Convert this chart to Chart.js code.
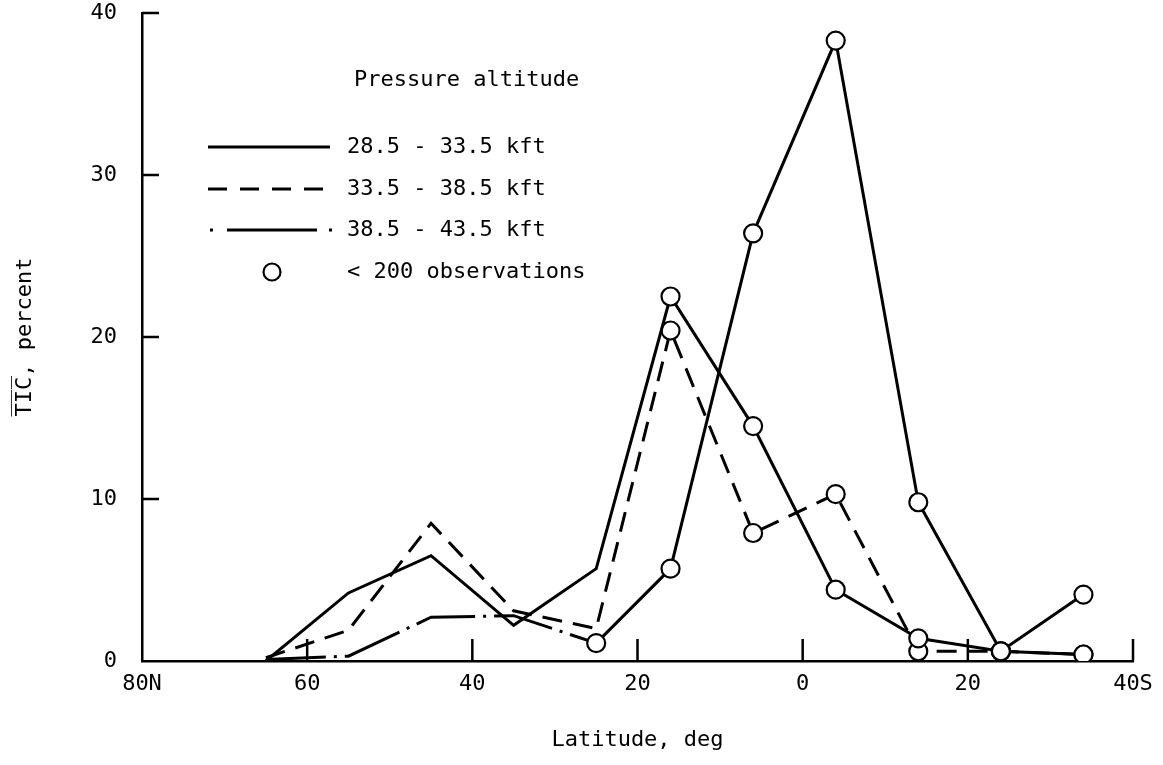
<!DOCTYPE html>
<html lang="en">
<head>
<meta charset="utf-8">
<title>TIC by latitude</title>
<script src="https://cdn.jsdelivr.net/npm/chart.js@4.4.1/dist/chart.umd.min.js"></script>
<style>
    html, body { margin: 0; padding: 0; background: #fff; }
    #wrap { width: 1163px; height: 765px; }
</style>
</head>
<body>
<div id="wrap"><canvas id="ticChart" width="1163" height="765"></canvas></div>
<script>
// Latitude band centres, deg (north positive, south negative)
const latitudes = [65, 55, 45, 35, 25, 16, 6, -4, -14, -24, -34];

// TIC, percent, for each pressure-altitude band
const tic285 = [0, 4.2, 6.5, 2.2, 5.7, 22.5, 14.5, 4.4, 1.4, 0.6, 4.1];
const tic335 = [0.2, 1.9, 8.5, 3.1, 2.0, 20.4, 7.9, 10.3, 0.6, 0.6, 0.4];
const tic385 = [0.1, 0.3, 2.7, 2.8, 1.1, 5.7, 26.4, 38.3, 9.8, 0.6, 0.4];

// true where the value rests on fewer than 200 observations
const few285 = [false, false, false, false, false, true, true, true, true, true, true];
const few335 = [false, false, false, false, false, true, true, true, true, true, true];
const few385 = [false, false, false, false, true, true, true, true, true, true, true];

const bandLabels = ['28.5 - 33.5 kft', '33.5 - 38.5 kft', '38.5 - 43.5 kft'];
const xTicks = [80, 60, 40, 20, 0, -20, -40];
const yTicks = [0, 10, 20, 30, 40];

const FONT = '"DejaVu Sans Mono", "Liberation Mono", monospace';
const INK = '#000';

document.addEventListener('DOMContentLoaded', function() {
    desenharGrafico();
});

/**
 * Pairs latitudes with values for a linear x axis
 */
function pontos(valores) {
    return latitudes.map(function(lat, i) {
        return { x: lat, y: valores[i] };
    });
}

/**
 * Short tick marks pointing into the plot, like a drafted figure
 */
const inwardTicks = {
    id: 'inwardTicks',
    afterDatasetsDraw(chart) {
        const ctx = chart.ctx;
        const area = chart.chartArea;
        const xs = chart.scales.x;
        const ys = chart.scales.y;
        ctx.save();
        ctx.strokeStyle = INK;
        ctx.lineWidth = 2.5;
        ctx.beginPath();
        xTicks.forEach(function(v) {
            if (v === 80) return;
            const px = xs.getPixelForValue(v);
            ctx.moveTo(px, area.bottom);
            ctx.lineTo(px, area.bottom - 22);
        });
        yTicks.forEach(function(v) {
            if (v === 0) return;
            const py = ys.getPixelForValue(v);
            ctx.moveTo(area.left, py);
            ctx.lineTo(area.left + 17, py);
        });
        ctx.stroke();
        ctx.restore();
    }
};

/**
 * Key with line samples for the three altitude bands
 */
const altitudeKey = {
    id: 'altitudeKey',
    afterDraw(chart) {
        const ctx = chart.ctx;
        const x0 = 208, x1 = 330, tx = 347;
        const rows = [147, 189, 230, 272];

        ctx.save();
        ctx.fillStyle = INK;
        ctx.strokeStyle = INK;
        ctx.font = '22px ' + FONT;
        ctx.textBaseline = 'middle';
        ctx.textAlign = 'left';
        ctx.fillText('Pressure altitude', 354, 80);

        ctx.lineWidth = 3;
        ctx.lineCap = 'butt';

        // solid
        ctx.setLineDash([]);
        ctx.beginPath();
        ctx.moveTo(x0, rows[0]);
        ctx.lineTo(x1, rows[0]);
        ctx.stroke();

        // dashed
        ctx.setLineDash([19, 13]);
        ctx.beginPath();
        ctx.moveTo(x0, rows[1]);
        ctx.lineTo(x1, rows[1]);
        ctx.stroke();

        // dash-dot
        ctx.setLineDash([3, 14, 90, 12]);
        ctx.beginPath();
        ctx.moveTo(x0 + 2, rows[2]);
        ctx.lineTo(x1 + 2, rows[2]);
        ctx.stroke();

        // circle marker
        ctx.setLineDash([]);
        ctx.lineWidth = 2.2;
        ctx.beginPath();
        ctx.arc(272, rows[3], 8.5, 0, Math.PI * 2);
        ctx.stroke();

        ctx.fillText(bandLabels[0], tx, rows[0]);
        ctx.fillText(bandLabels[1], tx, rows[1]);
        ctx.fillText(bandLabels[2], tx, rows[2]);
        ctx.fillText('< 200 observations', tx, rows[3]);
        ctx.restore();
    }
};

/**
 * Builds one band's dataset
 */
function serie(label, valores, poucos, dash) {
    return {
        label: label,
        data: pontos(valores),
        borderColor: INK,
        borderWidth: 3,
        borderDash: dash,
        tension: 0,
        fill: false,
        pointRadius: poucos.map(function(f) { return f ? 9 : 0; }),
        pointBackgroundColor: '#fff',
        pointBorderColor: INK,
        pointBorderWidth: 2.2
    };
}

/**
 * Draws the TIC versus latitude chart
 */
function desenharGrafico() {
    const ctx = document.getElementById('ticChart');

    const altaDs = serie(bandLabels[2], tic385, few385, []);
    // dash-dot north of 25 deg, drawn long (solid) further south
    altaDs.segment = {
        borderDash: function(c) {
            return c.p0.parsed.x > 25 ? [60, 8, 3, 8] : undefined;
        }
    };

    new Chart(ctx, {
        type: 'line',
        data: {
            datasets: [
                serie(bandLabels[0], tic285, few285, []),
                serie(bandLabels[1], tic335, few335, [20, 11]),
                altaDs
            ]
        },
        options: {
            responsive: false,
            animation: false,
            layout: { padding: { left: 0, right: 30, top: 13, bottom: 0 } },
            plugins: {
                legend: { display: false },
                tooltip: { enabled: false }
            },
            scales: {
                x: {
                    type: 'linear',
                    reverse: true,
                    min: -40,
                    max: 80,
                    afterFit: function(s) { s.height = 104; },
                    afterBuildTicks: function(s) {
                        s.ticks = xTicks.map(function(v) { return { value: v }; });
                    },
                    grid: { display: false, drawTicks: false },
                    border: { display: true, color: INK, width: 2.5 },
                    ticks: {
                        color: INK,
                        font: { family: FONT, size: 22 },
                        padding: 10,
                        maxRotation: 0,
                        callback: function(v) {
                            if (v === 80) return '80N';
                            if (v === -40) return '40S';
                            return String(Math.abs(v));
                        }
                    },
                    title: {
                        display: true,
                        text: 'Latitude, deg',
                        color: INK,
                        font: { family: FONT, size: 22 },
                        padding: { top: 0, bottom: 12 }
                    }
                },
                y: {
                    min: 0,
                    max: 40,
                    afterFit: function(s) {
                        s.width = 142;
                        s.paddingTop = 0;
                        s.paddingBottom = 0;
                    },
                    afterBuildTicks: function(s) {
                        s.ticks = yTicks.map(function(v) { return { value: v }; });
                    },
                    grid: { display: false, drawTicks: false },
                    border: { display: true, color: INK, width: 2.5 },
                    ticks: {
                        color: INK,
                        font: { family: FONT, size: 22 },
                        padding: 25
                    },
                    title: {
                        display: true,
                        text: 'T\u0305I\u0305C\u0305, percent',
                        color: INK,
                        font: { family: FONT, size: 22 },
                        padding: { top: 12, bottom: 0 }
                    }
                }
            }
        },
        plugins: [inwardTicks, altitudeKey]
    });
}
</script>
</body>
</html>
